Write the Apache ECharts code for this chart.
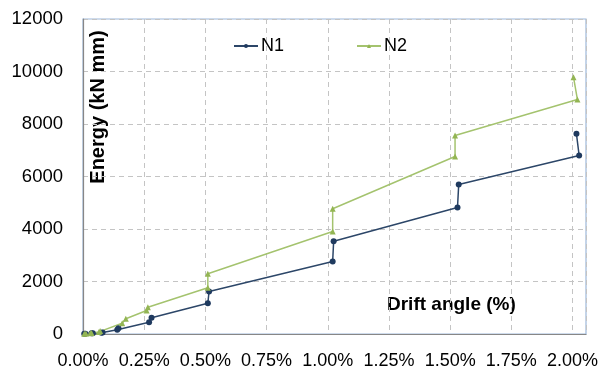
<!DOCTYPE html>
<html>
<head>
<meta charset="utf-8">
<script src="https://cdn.jsdelivr.net/npm/echarts@6/dist/echarts.min.js"></script>
<style>
html,body{margin:0;padding:0;background:#fff;}
#c{width:603px;height:376px;}
</style>
</head>
<body>
<div id="c"></div>
<script>
// Drift angle (%) and energy (kN mm)
const n1Drift  = [0.005, 0.01, 0.035, 0.04, 0.075, 0.08, 0.14, 0.145, 0.27, 0.28, 0.51, 0.515, 1.02, 1.024, 1.53, 1.535, 2.027, 2.016];
const n1Energy = [5, 10, 25, 30, 45, 60, 160, 220, 450, 617, 1173, 1619, 2762, 3535, 4819, 5695, 6800, 7627];
const n2Drift  = [0.005, 0.012, 0.03, 0.035, 0.065, 0.07, 0.16, 0.175, 0.26, 0.265, 0.51, 0.51, 1.02, 1.02, 1.52, 1.52, 2.02, 2.004];
const n2Energy = [5, 15, 25, 40, 80, 110, 411, 579, 895, 1021, 1760, 2293, 3905, 4770, 6762, 7562, 8933, 9783];
const seriesNames = ['N1', 'N2'];
const yTitle = 'Energy (kN mm)';
const xTitle = 'Drift angle (%)';

const FONT = '"Liberation Sans", Arial, sans-serif';
const pair = (xs, ys) => xs.map((x, i) => [x, ys[i]]);

const chart = echarts.init(document.getElementById('c'), null, {renderer: 'canvas'});
chart.setOption({
  animation: false,
  backgroundColor: '#fff',
  grid: {left: 83, right: 17, top: 19, bottom: 42, show: true, borderColor: '#9DB8DA', borderWidth: 1.2},
  legend: {
    left: 228, top: 32, itemGap: 72, itemWidth: 24, itemHeight: 5,
    textStyle: {fontFamily: FONT, fontSize: 18, color: '#000', padding: [0, 0, 0, -2]},
    data: seriesNames
  },
  xAxis: {
    type: 'value', min: 0, max: 2.055, interval: 0.25,
    axisLine: {show: true, lineStyle: {color: '#878787', width: 1.2}},
    axisTick: {show: false},
    splitLine: {show: true, lineStyle: {color: '#C4C4C4', type: [5, 4], width: 1}},
    axisLabel: {
      fontFamily: FONT, fontSize: 18, color: '#000', margin: 18,
      showMaxLabel: false,
      formatter: v => v.toFixed(2) + '%'
    }
  },
  yAxis: {
    type: 'value', min: 0, max: 12000, interval: 2000,
    axisLine: {show: true, lineStyle: {color: '#878787', width: 1.2}},
    axisTick: {show: false},
    splitLine: {show: true, lineStyle: {color: '#C4C4C4', type: [5, 4], width: 1}},
    axisLabel: {fontFamily: FONT, fontSize: 18.5, color: '#000', margin: 20, formatter: v => String(v)}
  },
  graphic: [
    {type: 'text', x: 98, y: 107, rotation: Math.PI / 2,
     style: {text: yTitle, font: 'bold 20px ' + FONT, fill: '#000', textAlign: 'center', textVerticalAlign: 'middle'}},
    {type: 'text', x: 387, y: 305,
     style: {text: xTitle, font: 'bold 19px ' + FONT, fill: '#000', textAlign: 'left', textVerticalAlign: 'middle'}}
  ],
  series: [
    {
      name: seriesNames[0], type: 'line', data: pair(n1Drift, n1Energy),
      symbol: 'circle', symbolSize: 6,
      lineStyle: {color: '#2C4668', width: 1.5},
      itemStyle: {color: '#1F3A5F'}
    },
    {
      name: seriesNames[1], type: 'line', data: pair(n2Drift, n2Energy),
      symbol: 'triangle', symbolSize: 6,
      lineStyle: {color: '#A4C36E', width: 1.5},
      itemStyle: {color: '#93B553'}
    }
  ]
});
</script>
</body>
</html>
